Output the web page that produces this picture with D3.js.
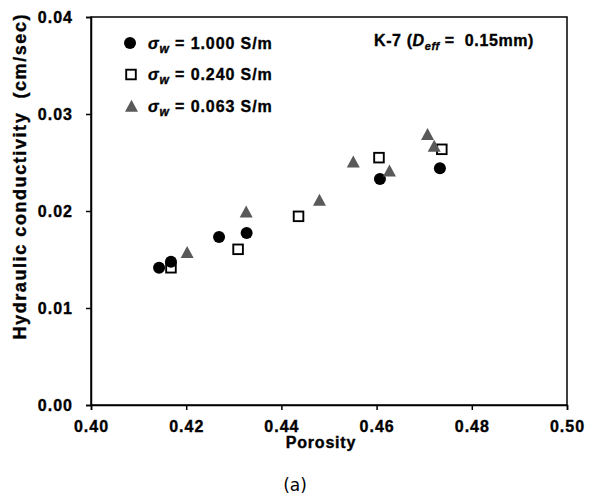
<!DOCTYPE html>
<html>
<head>
<meta charset="utf-8">
<script src="https://cdn.jsdelivr.net/npm/d3@7"></script>
<style>
  body { margin: 0; background: #fff; }
  svg text { font-family: "Liberation Sans", Arial, sans-serif; white-space: pre; }
  svg text.heavy { stroke: #000; stroke-width: 0.35px; }
</style>
</head>
<body>
<svg id="chart" width="606" height="497"></svg>
<script>
// --- data ---
const porosity1 = [0.4143, 0.4168, 0.4269, 0.4327, 0.4607, 0.4733];
const cond1 = [0.01415, 0.01478, 0.01732, 0.01773, 0.0233, 0.0244];
const porosity2 = [0.4168, 0.4309, 0.4436, 0.4605, 0.4737];
const cond2 = [0.01415, 0.01605, 0.01945, 0.0255, 0.02636];
const porosity3 = [0.4202, 0.4326, 0.4480, 0.4551, 0.4627, 0.4707, 0.4721];
const cond3 = [0.01574, 0.01993, 0.02113, 0.02508, 0.02415, 0.0279, 0.0267];

const xTicks = [0.40, 0.42, 0.44, 0.46, 0.48, 0.50];
const yTicks = [0.00, 0.01, 0.02, 0.03, 0.04];
const legendLabels = ["1.000 S/m", "0.240 S/m", "0.063 S/m"];

const svg = d3.select("#chart");
const mLeft = 91, mRight = 567, mTop = 17, mBottom = 405;

const x = d3.scaleLinear().domain([0.40, 0.50]).range([mLeft, mRight]);
const y = d3.scaleLinear().domain([0, 0.04]).range([mBottom, mTop]);

// frame
svg.append("rect")
    .attr("x", mLeft).attr("y", mTop)
    .attr("width", mRight - mLeft).attr("height", mBottom - mTop)
    .attr("fill", "none").attr("stroke", "#000").attr("stroke-width", 1.5);

// axes
const xAxis = svg.append("g")
    .attr("transform", `translate(0,${mBottom})`)
    .call(d3.axisBottom(x).tickValues(xTicks).tickFormat(d3.format(".2f")).tickSize(5).tickPadding(11));
const yAxis = svg.append("g")
    .attr("transform", `translate(${mLeft},0)`)
    .call(d3.axisLeft(y).tickValues(yTicks).tickFormat(d3.format(".2f")).tickSize(5).tickPadding(13));

[xAxis, yAxis].forEach(a => {
    a.select(".domain").attr("stroke", "#000").attr("stroke-width", 1.5);
    a.selectAll(".tick line").attr("stroke", "#000").attr("stroke-width", 1.5);
    a.selectAll(".tick text")
        .attr("class", "heavy")
        .attr("fill", "#000")
        .style("font-family", '"Liberation Sans", Arial, sans-serif')
        .style("font-size", "16px")
        .style("font-weight", "bold")
        .style("letter-spacing", "1px");
});

// axis titles
svg.append("text")
    .attr("class", "heavy")
    .attr("x", 321).attr("y", 448)
    .attr("text-anchor", "middle")
    .style("font-size", "16px").style("font-weight", "bold")
    .style("letter-spacing", "0.8px")
    .text("Porosity");

svg.append("text")
    .attr("class", "heavy")
    .attr("transform", "translate(26,177) rotate(-90)")
    .attr("text-anchor", "middle")
    .attr("textLength", 325).attr("lengthAdjust", "spacing")
    .style("font-size", "18px").style("font-weight", "bold")
    .text("Hydraulic conductivity  (cm/sec)");

svg.append("text")
    .attr("x", 295).attr("y", 491)
    .attr("text-anchor", "middle")
    .style("font-family", '"DejaVu Sans", sans-serif')
    .style("font-size", "17px")
    .text("(a)");

// markers
const triPath = "M0,-6.3L6.5,5.7L-6.5,5.7Z";

const plot = svg.append("g");
plot.selectAll("circle.s1")
    .data(d3.zip(porosity1, cond1))
    .join("circle")
    .attr("class", "s1")
    .attr("cx", d => x(d[0])).attr("cy", d => y(d[1]))
    .attr("r", 6).attr("fill", "#000");

plot.selectAll("rect.s2")
    .data(d3.zip(porosity2, cond2))
    .join("rect")
    .attr("class", "s2")
    .attr("x", d => x(d[0]) - 4.8).attr("y", d => y(d[1]) - 4.8)
    .attr("width", 9.6).attr("height", 9.6)
    .attr("fill", "none").attr("stroke", "#000").attr("stroke-width", 1.9);

plot.selectAll("path.s3")
    .data(d3.zip(porosity3, cond3))
    .join("path")
    .attr("class", "s3")
    .attr("d", triPath)
    .attr("transform", d => `translate(${x(d[0])},${y(d[1])})`)
    .attr("fill", "#595959");

// legend
const legend = svg.append("g");
const rowY = [43, 74.5, 106];
legendLabels.forEach((lab, i) => {
    const cy = rowY[i];
    if (i === 0) {
        legend.append("circle").attr("cx", 130).attr("cy", cy).attr("r", 6).attr("fill", "#000");
    } else if (i === 1) {
        legend.append("rect").attr("x", 131 - 4.8).attr("y", cy - 4.8)
            .attr("width", 9.6).attr("height", 9.6)
            .attr("fill", "none").attr("stroke", "#000").attr("stroke-width", 1.9);
    } else {
        legend.append("path").attr("d", triPath)
            .attr("transform", `translate(131.5,${cy})`).attr("fill", "#595959");
    }
    const t = legend.append("text")
        .attr("class", "heavy")
        .attr("x", 148).attr("y", cy + 5.5)
        .style("font-size", "16px").style("font-weight", "bold")
        .style("letter-spacing", "0.9px");
    t.append("tspan").style("font-style", "italic").text("σ");
    t.append("tspan").attr("dy", 4).style("font-style", "italic").style("font-size", "12px").text("w");
    t.append("tspan").attr("dy", -4).text(" = " + lab);
});

// annotation
const ann = svg.append("text")
    .attr("class", "heavy")
    .attr("x", 374).attr("y", 46)
    .style("font-size", "16px").style("font-weight", "bold")
    .style("letter-spacing", "0.6px");
ann.append("tspan").text("K-7 (");
ann.append("tspan").style("font-style", "italic").text("D");
ann.append("tspan").attr("dy", 4).style("font-style", "italic").style("font-size", "11px").text("eff");
ann.append("tspan").attr("dy", -4).text(" =  0.15mm)");
</script>
</body>
</html>
